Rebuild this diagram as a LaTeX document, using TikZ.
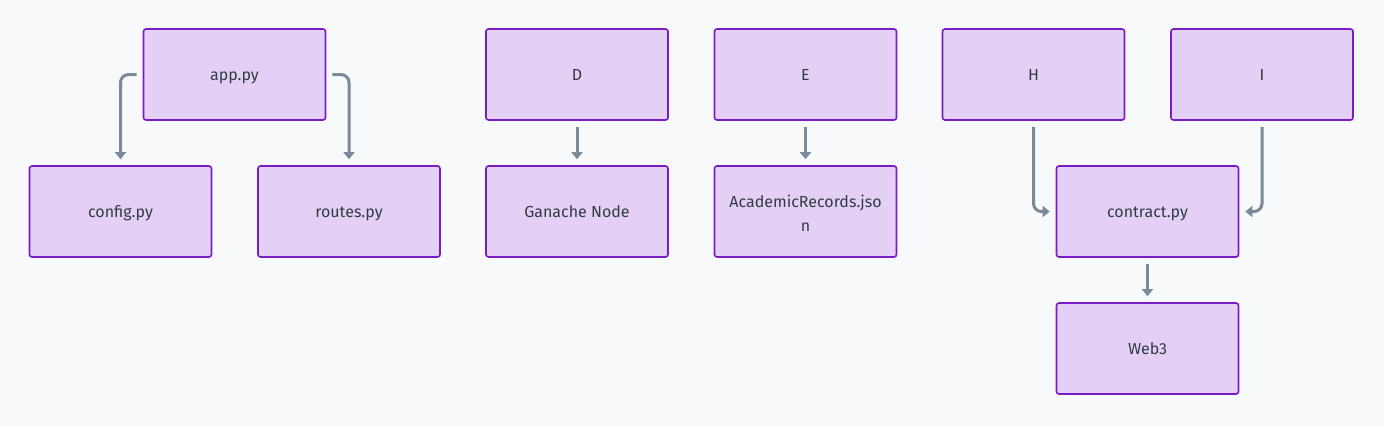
\documentclass[tikz,border=0pt]{standalone}
\usepackage{fontspec}
\setmainfont{Fira Sans}
\usetikzlibrary{arrows.meta}
\definecolor{bg}{HTML}{F8F9FA}
\definecolor{boxfill}{HTML}{E4D0F4}
\definecolor{boxline}{HTML}{7A1BC4}
\definecolor{flowc}{HTML}{7B8A98}
\definecolor{txt}{HTML}{333A48}
\tikzset{
  file/.style={draw=boxline,fill=boxfill,line width=1.6pt,rounded corners=2.5pt,
    minimum width=182pt,minimum height=91pt,inner sep=0pt,align=center,
    text=txt,font=\fontsize{16}{24}\selectfont},
  one/.style={text height=13pt,text depth=2pt},
  flow/.style={draw=flowc,line width=3pt,rounded corners=8pt,
    -{Triangle[length=7pt,width=11pt]}}
}
\newcommand{\gp}{6pt}

\begin{document}
\begin{tikzpicture}[x=1pt,y=-1pt]
      \fill[bg] (0,0) rectangle (1384,426);
      \node[file,one] (app) at (234.5,74.5) {app.py};
      \node[file,one] (config) at (120.5,211.5) {config.py};
      \node[file,one] (routes) at (349,211.5) {routes.py};
      \node[file,one] (D) at (577,74.5) {D};
      \node[file,one] (ganache) at (577,211.5) {Ganache Node};
      \node[file,one] (E) at (805.5,74.5) {E};
      \node[file] (records) at (805.5,211.5) {\rule{0pt}{15pt}AcademicRecords.jso\\n};
      \node[file,one] (H) at (1033.5,74.5) {H};
      \node[file,one] (I) at (1262,74.5) {I};
      \node[file,one] (contract) at (1147.5,211.5) {contract.py};
      \node[file,one] (web) at (1147.5,348.5) {Web3};
      % arrows keep a small gap to the boxes
      \draw[flow] ([xshift=-\gp]app.west) -| ([yshift=\gp]config.north);
      \draw[flow] ([xshift=\gp]app.east) -| ([yshift=\gp]routes.north);
      \draw[flow] ([yshift=-\gp]D.south) -- ([yshift=\gp]ganache.north);
      \draw[flow] ([yshift=-\gp]E.south) -- ([yshift=\gp]records.north);
      \draw[flow] ([yshift=-\gp]H.south) |- ([xshift=-\gp]contract.west);
      \draw[flow] ([yshift=-\gp]I.south) |- ([xshift=\gp]contract.east);
      \draw[flow] ([yshift=-\gp]contract.south) -- ([yshift=\gp]web.north);
\end{tikzpicture}
\end{document}
